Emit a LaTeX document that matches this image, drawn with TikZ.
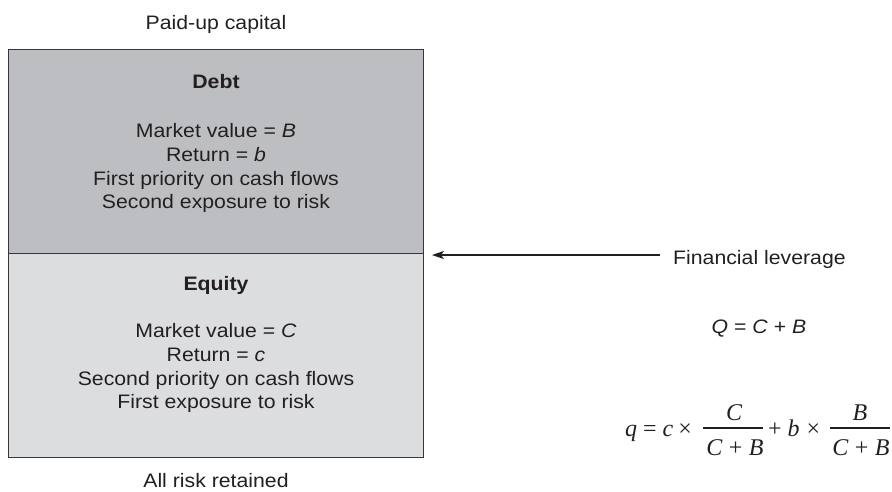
\documentclass[tikz,border=0pt]{standalone}
\usepackage{fontspec}
\setmainfont[FakeStretch=1.09]{Liberation Sans}
\newfontfamily\serifmath{Liberation Serif}
\usetikzlibrary{arrows.meta}
\definecolor{debtc}{RGB}{189,190,193}
\definecolor{eqc}{RGB}{220,221,223}
\definecolor{inkc}{RGB}{35,31,32}
\definecolor{edgec}{RGB}{55,55,55}
\newcommand{\mi}[1]{{\itshape #1}}
\begin{document}
\begin{tikzpicture}[x=1pt,y=-1pt,
  txt/.style={anchor=base, inner sep=0pt, text=inkc, font=\fontsize{19.5}{23.6}\selectfont},
  ttl/.style={txt, font=\fontsize{19.5}{23.6}\selectfont\bfseries},
  fml/.style={anchor=base, inner sep=0pt, text=inkc, font=\serifmath\fontsize{24}{28}\selectfont},
  fbar/.style={draw=inkc, line width=1.2pt},
  part/.style={draw=edgec, line width=1.3pt, minimum width=415pt, minimum height=204pt, inner sep=0pt},
  arr/.style={draw=inkc, line width=1.1pt, -{Stealth[length=12pt,width=8pt,inset=3pt]}}
]
\useasboundingbox (0,0) rectangle (892,491);
% boxes
\node[part, fill=debtc] (debt) at (216,151.5) {};
\node[part, fill=eqc] (equity) at (216,355.5) {};
% labels outside
\node[txt] (paid) at (216,29) {Paid-up capital};
\node[txt] (retained) at (216,487.5) {All risk retained};
% debt text
\node[ttl] (dt) at (216,88) {Debt};
\node[txt] (d1) at (216,137) {Market value = \textit{B}};
\node[txt] (d2) at (216,161) {Return = \textit{b}};
\node[txt] (d3) at (216,185) {First priority on cash flows};
\node[txt] (d4) at (216,208) {Second exposure to risk};
% equity text
\node[ttl] (et) at (216,290) {Equity};
\node[txt] (e1) at (216,337) {Market value = \textit{C}};
\node[txt] (e2) at (216,361) {Return = \textit{c}};
\node[txt] (e3) at (216,385) {Second priority on cash flows};
\node[txt] (e4) at (216,408) {First exposure to risk};
% leverage
\node[txt, anchor=base west] (lev) at (673,264) {Financial leverage};
\coordinate (tip) at (432,255);
\draw[arr] ([xshift=-13pt]lev.west |- tip) -- (tip);
% formulas
\node[txt] (Q) at (759,333) {\textit{Q} = \textit{C} + \textit{B}};
\node[fml, anchor=base west] (lhs) at (625,436) {\mi{q}\hspace{6pt}=\hspace{6pt}\mi{c}\hspace{5pt}×};
\node[fml] (num1) at (734,420) {\mi{C}};
\node[fml] (den1) at (735,455) {\mi{C}\hspace{6.5pt}+\hspace{6.5pt}\mi{B}};
\draw[fbar] (703,428) -- (763,428);
\node[fml, anchor=base west] (mid) at (768,436) {+\hspace{6pt}\mi{b}\hspace{7pt}×};
\node[fml] (num2) at (860,420) {\mi{B}};
\node[fml] (den2) at (861,455) {\mi{C}\hspace{6.5pt}+\hspace{6.5pt}\mi{B}};
\draw[fbar] (830,428) -- (890,428);
\end{tikzpicture}
\end{document}
